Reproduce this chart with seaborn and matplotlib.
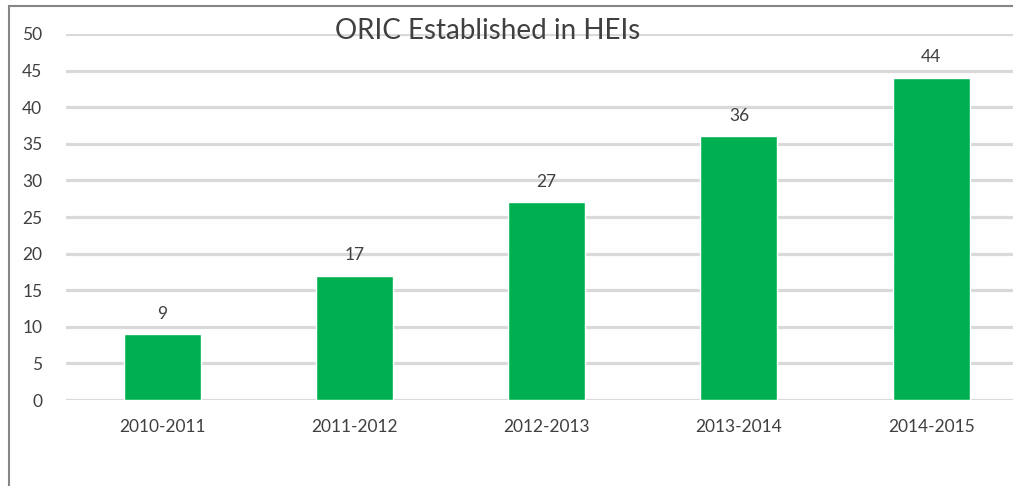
import matplotlib
matplotlib.use("Agg")
import matplotlib.pyplot as plt
import seaborn as sns
import pandas as pd
from matplotlib.patches import Rectangle

categories = ["2010-2011", "2011-2012", "2012-2013", "2013-2014", "2014-2015"]
values = [9, 17, 27, 36, 44]
yticks = [0, 5, 10, 15, 20, 25, 30, 35, 40, 45, 50]

sns.set_theme(style="white")
plt.rcParams['font.family'] = ['Lato', 'DejaVu Sans']

W, H = 1013, 486
fig = plt.figure(figsize=(W / 100, H / 100), dpi=100)
ax = fig.add_axes([66 / W, (H - 400) / H, (W - 66) / W, (400 - 34) / H])

df = pd.DataFrame({"period": categories, "count": values})
sns.barplot(data=df, x="period", y="count", color="#00b050", saturation=1,
            width=0.4, ax=ax, zorder=3)

ax.set_ylim(0, 50)
# category slot = 192px; axes visible width = 947px
ax.set_xlim(-0.5, -0.5 + (W - 66) / 192.25)
ax.set_yticks(yticks)
ax.yaxis.grid(True, color="#d9d9d9", linewidth=2.3, zorder=0)
ax.set_axisbelow(True)
for s in ax.spines.values():
    s.set_visible(False)
ax.tick_params(axis="both", length=0, labelsize=12.5, labelcolor="#404040")
ax.tick_params(axis="y", pad=17)
ax.tick_params(axis="x", pad=14)
ax.set_xlabel("")
ax.set_ylabel("")

for i, v in enumerate(values):
    ax.annotate(str(v), (i, v), xytext=(0, 9), textcoords="offset points",
                ha="center", va="bottom", fontsize=12.5, color="#404040")

fig.text(488 / W, 1 - 31 / H, "ORIC Established in HEIs", ha="center", va="center",
         fontsize=20, color="#404040")

fig.patches.append(Rectangle((9 / W, -0.1), 1.2, 1 - 6 / H + 0.1, transform=fig.transFigure,
                             fill=False, edgecolor="#868686", linewidth=1.5, zorder=10))

fig.savefig("out.png", dpi=100)
